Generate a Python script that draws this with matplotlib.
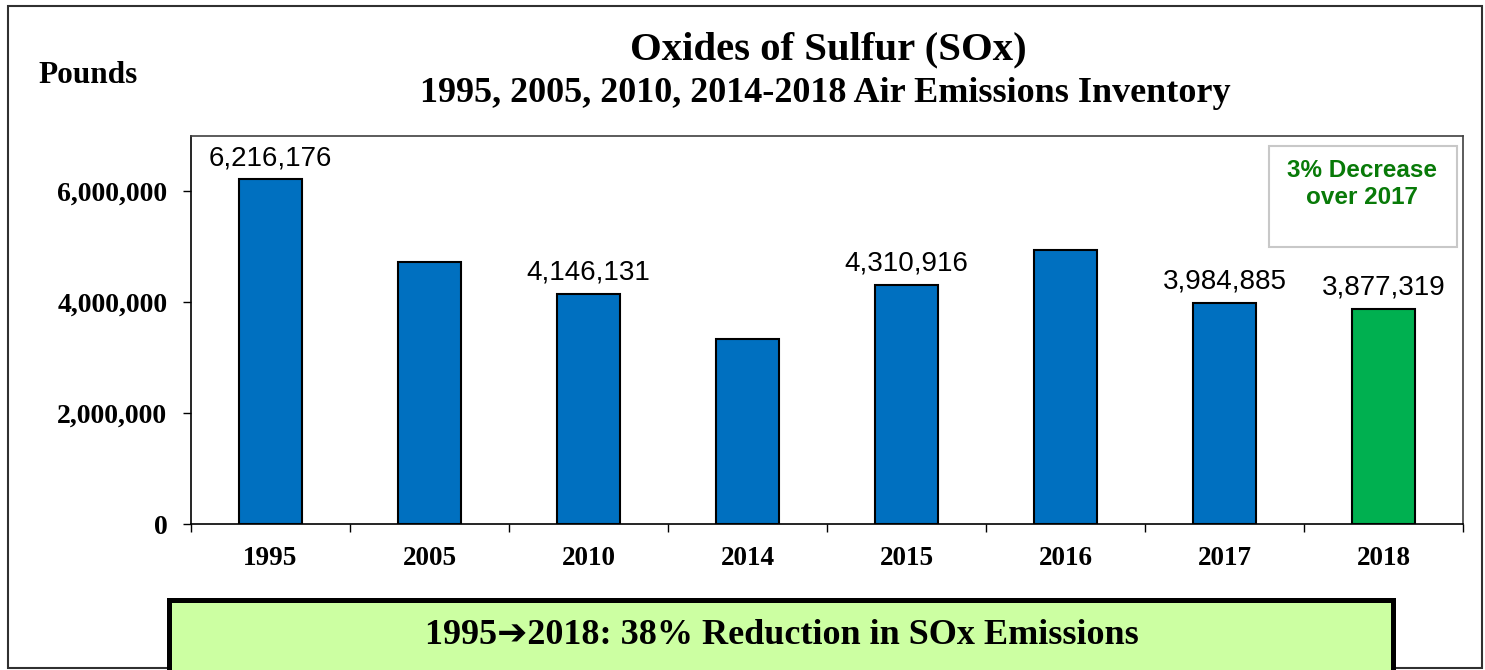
import matplotlib
matplotlib.use("Agg")
import matplotlib.pyplot as plt
from matplotlib.patches import Rectangle
from matplotlib.ticker import FuncFormatter, FixedLocator

# Données (livres de SOx par année d'inventaire)
years = ['1995', '2005', '2010', '2014', '2015', '2016', '2017', '2018']
emissions = [6216176, 4720000, 4146131, 3330000, 4310916, 4940000, 3984885, 3877319]
labeled = [True, False, True, False, True, False, True, True]
bar_colors = ['#0070C0'] * 7 + ['#00B050']

SERIF = ['Liberation Serif', 'DejaVu Serif']
SANS = ['Liberation Sans', 'DejaVu Sans']

fig = plt.figure(figsize=(14.85, 6.7), dpi=100)
ax = fig.add_axes([0.1286, 0.2179, 0.9852 - 0.1286, 0.797 - 0.2179])

x = list(range(len(years)))
bars = ax.bar(x, emissions, width=0.4, color=bar_colors, edgecolor='black', linewidth=1.5, zorder=3)

for bar, val, show in zip(bars, emissions, labeled):
    if show:
        ax.annotate(f'{val:,}', (bar.get_x() + bar.get_width() / 2, val),
                    xytext=(0, 6), textcoords='offset points',
                    ha='center', va='bottom', fontsize=20, family=SANS)

ax.set_xlim(-0.5, len(years) - 0.5)
ax.set_ylim(0, 7000000)

# ticks x aux limites des catégories, étiquettes au centre
ax.xaxis.set_major_locator(FixedLocator([i - 0.5 for i in range(len(years) + 1)]))
ax.xaxis.set_minor_locator(FixedLocator(x))
ax.set_xticklabels([], minor=False)
ax.set_xticklabels(years, minor=True)
ax.tick_params(axis='x', which='major', length=6, width=1, direction='out')
ax.tick_params(axis='x', which='minor', length=0, pad=16)
for lbl in ax.get_xticklabels(minor=True):
    lbl.set_fontfamily(SERIF)
    lbl.set_fontweight('bold')
    lbl.set_fontsize(19.5)

ax.set_yticks([0, 2000000, 4000000, 6000000])
ax.yaxis.set_major_formatter(FuncFormatter(lambda v, p: f'{int(v):,}'))
ax.tick_params(axis='y', length=6, width=1, direction='out', pad=11)
for lbl in ax.get_yticklabels():
    lbl.set_fontfamily(SERIF)
    lbl.set_fontweight('bold')
    lbl.set_fontsize(20)

for side in ['top', 'right']:
    ax.spines[side].set_color('#404040')
    ax.spines[side].set_linewidth(1.2)
for side in ['left', 'bottom']:
    ax.spines[side].set_color('black')
    ax.spines[side].set_linewidth(1.2)

# Titres
fig.text(0.5576, 0.926, 'Oxides of Sulfur (SOx)', ha='center', va='center',
         fontsize=29.3, fontweight='bold', family=SERIF)
fig.text(0.556, 0.860, '1995, 2005, 2010, 2014-2018 Air Emissions Inventory', ha='center', va='center',
         fontsize=26, fontweight='bold', family=SERIF)
fig.text(0.0256, 0.8866, 'Pounds', ha='left', va='center',
         fontsize=22.5, fontweight='bold', family=SERIF)

# Encadré 3% decrease
fig.patches.append(Rectangle((0.8545, 0.6313), 0.1266, 0.1507, transform=fig.transFigure,
                             facecolor='white', edgecolor='#C8C8C8', linewidth=1.5, zorder=5))
fig.text(0.917, 0.725, '3% Decrease\nover 2017', ha='center', va='center',
         fontsize=17.5, fontweight='bold', color='#087A08', family=SANS, linespacing=1.2, zorder=6)

# Bandeau du bas
fig.patches.append(Rectangle((0.1138, -0.06), 0.8242, 0.1645, transform=fig.transFigure,
                             facecolor='#CCFFA2', edgecolor='black', linewidth=3.6, zorder=5))
fig.text(0.5266, 0.052, '1995\u27942018: 38% Reduction in SOx Emissions', ha='center', va='center',
         fontsize=26, fontweight='bold', family=['Liberation Serif', 'DejaVu Sans'], zorder=6)

# Cadre extérieur
fig.patches.append(Rectangle((8 / 1485, 1 - 668 / 670), (1482 - 8) / 1485, (668 - 6) / 670,
                             transform=fig.transFigure, facecolor='none', edgecolor='#303030',
                             linewidth=1.5, zorder=1))

fig.savefig('out.png', dpi=100)
plt.close(fig)
